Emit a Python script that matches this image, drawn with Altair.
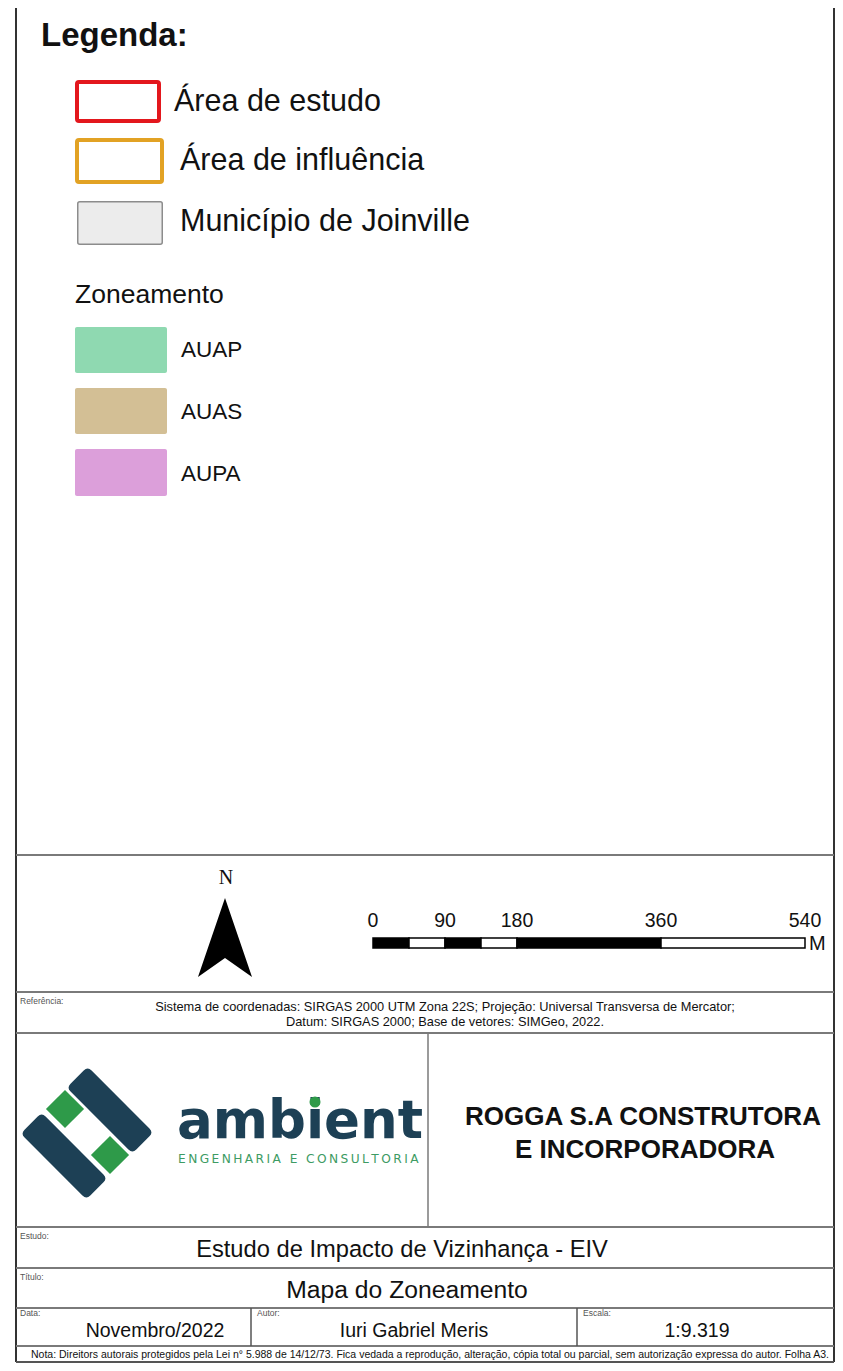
import altair as alt
import pandas as pd

# ------------------------------------------------------------------ content
legend_title = "Legenda:"
legend_labels = ["Área de estudo", "Área de influência", "Município de Joinville"]
legend_strokes = ["#e3171d", "#e2a224", "#8c8c8c"]
legend_fills = ["#ffffff", "#ffffff", "#ececec"]
zone_title = "Zoneamento"
zone_labels = ["AUAP", "AUAS", "AUPA"]
zone_colors = ["#8fd9b1", "#d3bf95", "#dc9fda"]
scale_ticks = [0, 90, 180, 360, 540]
scale_breaks = [0, 45, 90, 135, 180, 360, 540]
scale_unit = "M"
north_label = "N"
ref_label = "Referência:"
ref_lines = [
    "Sistema de coordenadas: SIRGAS 2000 UTM Zona 22S; Projeção: Universal Transversa de Mercator;",
    "Datum: SIRGAS 2000; Base de vetores: SIMGeo, 2022.",
]
logo_word = "ambient"
logo_tagline = "ENGENHARIA E CONSULTORIA"
client_lines = ["ROGGA S.A CONSTRUTORA", "E INCORPORADORA"]
field_labels = ["Estudo:", "Título:", "Data:", "Autor:", "Escala:"]
study_text = "Estudo de Impacto de Vizinhança - EIV"
title_text = "Mapa do Zoneamento"
date_text = "Novembro/2022"
author_text = "Iuri Gabriel Meris"
scale_text = "1:9.319"
note_text = ("Nota: Direitors autorais protegidos pela Lei n° 5.988 de 14/12/73. Fica vedada a reprodução, "
             "alteração, cópia total ou parcial, sem autorização expressa do autor. Folha A3.")

# ------------------------------------------------------------------ layout (page coordinates)
PAGE_W, PAGE_H, MARGIN = 843, 1371, 8
VIEW_W, VIEW_H = PAGE_W - 2 * MARGIN, PAGE_H - 2 * MARGIN
xs = alt.Scale(domain=[MARGIN, MARGIN + VIEW_W], range=[0, VIEW_W], nice=False, zero=False)
ys = alt.Scale(domain=[MARGIN, MARGIN + VIEW_H], range=[0, VIEW_H], nice=False, zero=False)


def X(f):
    return alt.X(f, type="quantitative", scale=xs, axis=None)


def Y(f):
    return alt.Y(f, type="quantitative", scale=ys, axis=None)


FRAME_L, FRAME_R, FRAME_B = 16, 834, 1362
h_lines = [855, 992, 1033, 1227, 1268, 1308, 1346]
rules = [dict(x=FRAME_L, x2=FRAME_L, y=MARGIN, y2=FRAME_B, c="#333333", w=2),
         dict(x=FRAME_R, x2=FRAME_R, y=MARGIN, y2=FRAME_B, c="#333333", w=2),
         dict(x=FRAME_L, x2=FRAME_R, y=FRAME_B, y2=FRAME_B, c="#555555", w=2)]
for hy in h_lines:
    rules.append(dict(x=FRAME_L, x2=FRAME_R, y=hy, y2=hy, c="#7a7a7a", w=2))
rules += [dict(x=428, x2=428, y=1033, y2=1227, c="#7a7a7a", w=1.5),
          dict(x=251, x2=251, y=1308, y2=1346, c="#555555", w=1.5),
          dict(x=577, x2=577, y=1308, y2=1346, c="#555555", w=1.5)]
rules_df = pd.DataFrame(rules)

# legend boxes
leg_box_pos = [(75, 80, 161, 123, 4), (75, 138, 164, 184, 4), (77, 201, 163, 245, 1.5)]
leg_rows = []
for (x0, y0, x1, y1, sw), s, f in zip(leg_box_pos, legend_strokes, legend_fills):
    leg_rows.append(dict(x=x0 + sw / 2, x2=x1 - sw / 2, y=y0 + sw / 2, y2=y1 - sw / 2, f=f, s=s, w=sw))
zone_box_pos = [(75, 327, 167, 373), (75, 388, 167, 434), (75, 449, 167, 496)]
for (x0, y0, x1, y1), col in zip(zone_box_pos, zone_colors):
    leg_rows.append(dict(x=x0, x2=x1, y=y0, y2=y1, f=col, s=col, w=0))
leg_df = pd.DataFrame(leg_rows)

# scale bar (meters -> page x)
SB_X0, SB_PX_PER_M, SB_Y0, SB_Y1 = 373, 0.8, 938, 948
sb_rows = []
for i in range(len(scale_breaks) - 1):
    sb_rows.append(dict(x=SB_X0 + SB_PX_PER_M * scale_breaks[i],
                        x2=SB_X0 + SB_PX_PER_M * scale_breaks[i + 1],
                        y=SB_Y0, y2=SB_Y1,
                        f="#000000" if i % 2 == 0 else "#ffffff", s="#000000", w=1.5))
sb_df = pd.DataFrame(sb_rows)


def rect_layer(df, corner=0):
    return alt.Chart(df).mark_rect(cornerRadius=corner).encode(
        x=X("x"), x2=alt.X2("x2"), y=Y("y"), y2=alt.Y2("y2"),
        fill=alt.Fill("f:N", scale=None),
        stroke=alt.Stroke("s:N", scale=None),
        strokeWidth=alt.StrokeWidth("w:Q", scale=None),
    )


def text_layer(rows, **kw):
    df = pd.DataFrame(rows, columns=["x", "y", "t", "s"])
    return alt.Chart(df).mark_text(**kw).encode(
        x=X("x"), y=Y("y"), text="t:N", size=alt.Size("s:Q", scale=None))


def symbol_layer(rows):
    df = pd.DataFrame(rows)
    return alt.Chart(df).mark_point(filled=True, opacity=1, strokeWidth=0).encode(
        x=X("x"), y=Y("y"),
        shape=alt.Shape("shape:N", scale=None),
        size=alt.Size("s:Q", scale=None),
        angle=alt.Angle("a:Q", scale=None),
        fill=alt.Fill("c:N", scale=None),
    )


BODY = "Liberation Sans"

bold_left = text_layer([(41, 36, legend_title, 33)], font=BODY, fontWeight="bold",
                       align="left", baseline="middle", color="#111111")
bold_center = text_layer([(643, 1117, client_lines[0], 26), (645, 1150, client_lines[1], 26)],
                         font=BODY, fontWeight="bold", align="center", baseline="middle",
                         color="#111111")
leg_text_x = [174, 180, 180]
leg_text_y = [102, 161, 222]
reg_left_rows = [(x, y, t, 30.5) for x, y, t in zip(leg_text_x, leg_text_y, legend_labels)]
reg_left_rows.append((75, 295, zone_title, 26.5))
reg_left_rows += [(181, y, t, 22.5) for y, t in zip([350, 412, 474], zone_labels)]
reg_left_rows.append((809, 944, scale_unit, 20))
reg_left = text_layer(reg_left_rows, font=BODY, align="left", baseline="middle", color="#111111")

reg_center_rows = [(SB_X0 + SB_PX_PER_M * v, 921, str(v), 19.5) for v in scale_ticks]
reg_center_rows += [(445, 1007, ref_lines[0], 12.8), (445, 1022, ref_lines[1], 12.8),
                    (402, 1250, study_text, 23.7), (407, 1291, title_text, 24.7),
                    (155, 1331, date_text, 19.5), (414, 1331, author_text, 19.5),
                    (697, 1331, scale_text, 19.5), (430, 1355, note_text, 10.5)]
reg_center = text_layer(reg_center_rows, font=BODY, align="center", baseline="middle",
                        color="#111111")

small_rows = [(20, 1001, ref_label, 8.5), (20, 1236, field_labels[0], 8.5),
              (20, 1277, field_labels[1], 8.5), (20, 1313, field_labels[2], 8.5),
              (257, 1313, field_labels[3], 8.5), (583, 1313, field_labels[4], 8.5)]
small = text_layer(small_rows, font=BODY, align="left", baseline="middle", color="#555555")

north_txt = text_layer([(226, 878, north_label, 20)], font="Liberation Serif", align="center",
                       baseline="middle", color="#111111")

NAVY, GREEN = "#1d4055", "#2e9a49"
logo_word_layer = text_layer([(177, 1138, logo_word, 53)], font="DejaVu Sans", fontWeight="bold",
                             align="left", baseline="alphabetic", color=NAVY)
tag = "\u2009".join(list(logo_tagline))
logo_tag_layer = text_layer([(178, 1159, tag, 12.2)], font="DejaVu Sans", align="left",
                            baseline="middle", color="#3d9b63")

# symbols: north arrow and logo pieces
ARROW = "M0,-1 L0.684,1 L0,0.52 L-0.684,1 Z"
BAR = ("M-0.88,-0.32 L0.88,-0.32 Q1,-0.32 1,-0.2 L1,0.2 Q1,0.32 0.88,0.32 "
       "L-0.88,0.32 Q-1,0.32 -1,0.2 L-1,-0.2 Q-1,-0.32 -0.88,-0.32 Z")
symbols = symbol_layer([
    dict(x=225, y=937.5, shape=ARROW, s=79 ** 2, a=0, c="#000000"),
    dict(x=110, y=1110, shape=BAR, s=93 ** 2, a=45, c=NAVY),
    dict(x=64, y=1156, shape=BAR, s=93 ** 2, a=45, c=NAVY),
    dict(x=65, y=1109, shape="square", s=27 ** 2, a=45, c=GREEN),
    dict(x=110, y=1155, shape="square", s=27 ** 2, a=45, c=GREEN),
])
i_dot = symbol_layer([dict(x=315, y=1102, shape="circle", s=11 ** 2, a=0, c=GREEN)])

rules_layer = alt.Chart(rules_df).mark_rule().encode(
    x=X("x"), x2=alt.X2("x2"), y=Y("y"), y2=alt.Y2("y2"),
    color=alt.Color("c:N", scale=None),
    strokeWidth=alt.StrokeWidth("w:Q", scale=None),
)

chart = alt.layer(
    rect_layer(leg_df, corner=2), rect_layer(sb_df), rules_layer, symbols,
    bold_left, bold_center, reg_left, reg_center, small, north_txt,
    logo_word_layer, logo_tag_layer, i_dot,
).properties(
    width=VIEW_W, height=VIEW_H,
    autosize=alt.AutoSizeParams(type="none"), padding=0, background="white",
).configure_view(stroke=None)

chart.save("out.html", embed_options={"renderer": "svg", "actions": False})
